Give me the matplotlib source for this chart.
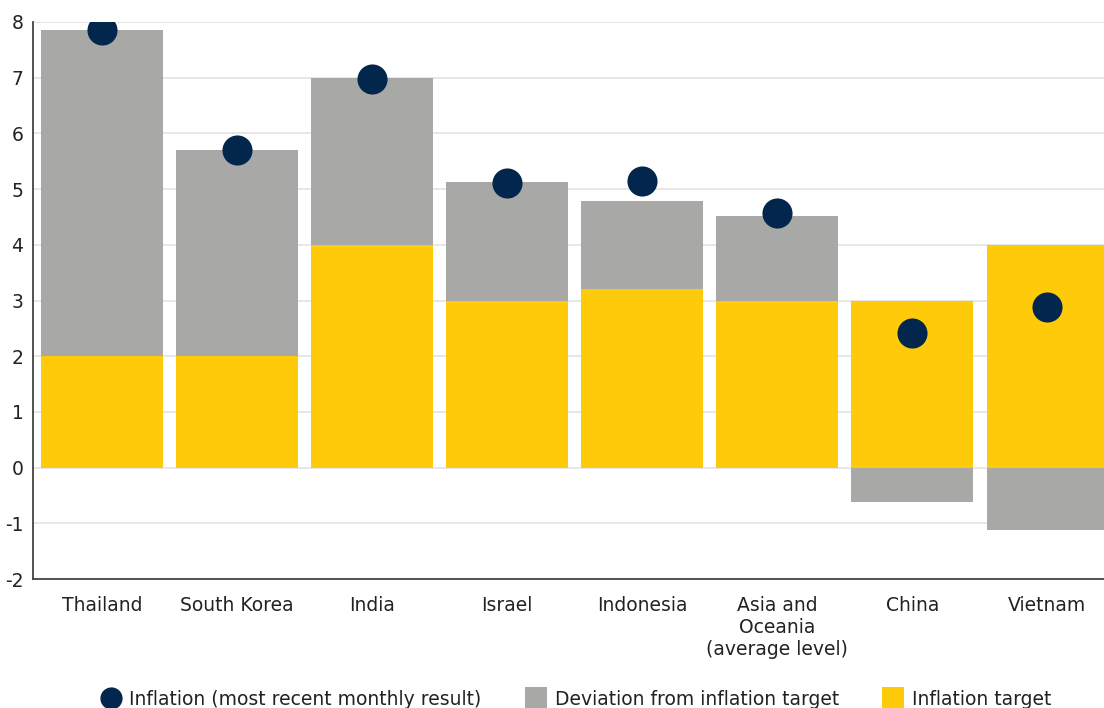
import matplotlib
matplotlib.use("Agg")
import matplotlib.pyplot as plt
from matplotlib.lines import Line2D
import numpy as np

# data
countries = ["Thailand", "South Korea", "India", "Israel", "Indonesia",
             "Asia and\nOceania\n(average level)", "China", "Vietnam"]
target = [2.0, 2.0, 4.0, 3.0, 3.2, 3.0, 3.0, 4.0]
deviation = [5.86, 3.70, 2.99, 2.13, 1.59, 1.52, -0.61, -1.11]
inflation = [7.86, 5.71, 6.97, 5.11, 5.14, 4.57, 2.42, 2.88]
yticks = [-2, -1, 0, 1, 2, 3, 4, 5, 6, 7, 8]

gray = "#a8a8a7"
yellow = "#ffca0a"
navy = "#03264c"

plt.rcParams["font.family"] = ["DejaVu Sans"]

fig = plt.figure(figsize=(11.04, 7.08), dpi=100)
ax = fig.add_axes([0.030, 0.182, 0.970, 0.787])

x = np.arange(len(countries))
w = 0.9
ax.bar(x, target, width=w, color=yellow, zorder=2)
# positive deviations sit on top of the target, negative ones go below zero
dev_bottom = [t if d > 0 else 0 for t, d in zip(target, deviation)]
ax.bar(x, deviation, width=w, bottom=dev_bottom, color=gray, zorder=2)
ax.scatter(x, inflation, s=470, color=navy, zorder=3, linewidths=0)

ax.set_xlim(-0.51, 7.42)
ax.set_ylim(-2, 8)
ax.set_yticks(yticks)
ax.set_yticklabels([str(t) for t in yticks])
ax.set_xticks(x)
ax.set_xticklabels(countries, linespacing=1.2)
ax.yaxis.grid(True, color="#e3e3e3", linewidth=1.2, zorder=0)
ax.set_axisbelow(True)
ax.tick_params(axis="both", length=0, labelsize=13.5, colors="#222222")
ax.tick_params(axis="x", pad=12)
ax.tick_params(axis="y", pad=7)
for s in ["top", "right"]:
    ax.spines[s].set_visible(False)
for s in ["left", "bottom"]:
    ax.spines[s].set_color("#444444")
    ax.spines[s].set_linewidth(1.3)

handles = [
    Line2D([], [], marker="o", linestyle="none", markersize=16,
           markerfacecolor=navy, markeredgewidth=0),
    Line2D([], [], marker="s", linestyle="none", markersize=16,
           markerfacecolor=gray, markeredgewidth=0),
    Line2D([], [], marker="s", linestyle="none", markersize=16,
           markerfacecolor=yellow, markeredgewidth=0),
]
labels = ["Inflation (most recent monthly result)",
          "Deviation from inflation target", "Inflation target"]
fig.legend(handles, labels, loc="center", bbox_to_anchor=(0.522, 0.012),
           ncol=3, frameon=False, fontsize=13.5, handlelength=1.0,
           handletextpad=0.5, columnspacing=2.4, labelcolor="#222222")

fig.savefig("out.png", dpi=100)
